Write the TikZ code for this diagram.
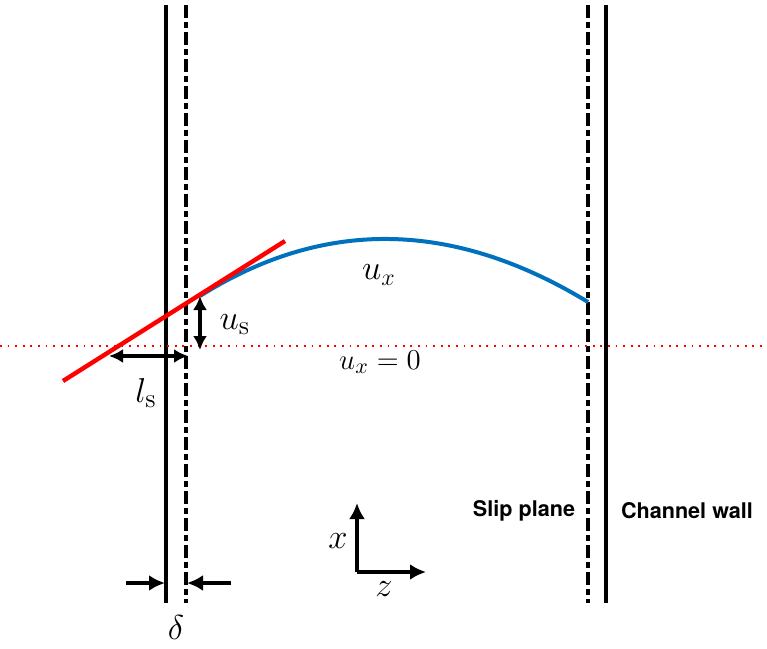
\documentclass[tikz,border=0pt]{standalone}
\usepackage{fontspec}
\setsansfont{TeX Gyre Heros}
\usepackage{tikz}
\usetikzlibrary{positioning,calc,arrows.meta}

\begin{document}
\begin{tikzpicture}[
    x=0.5pt, y=-0.5pt,
    wall/.style={line width=1.6pt},
    slipline/.style={line width=1.6pt, dash pattern=on 6.5pt off 2pt on 3pt off 2pt},
    profile/.style={line width=2pt, color={rgb,255:red,0;green,114;blue,189}},
    tangent/.style={line width=2.2pt, red},
    zeroline/.style={line width=0.9pt, red, dash pattern=on 0.9pt off 2.9pt},
    arrow/.style={-{Latex[length=8pt,width=8pt]}, line width=1.6pt},
    darrow/.style={{Latex[length=7pt,width=7pt]}-{Latex[length=7pt,width=7pt]}, line width=1.7pt},
    sym/.style={font=\fontsize{19}{22}\selectfont},
    lab/.style={font=\sffamily\bfseries\fontsize{10.8}{13}\selectfont}
]
\useasboundingbox (0,0) rectangle (767,649);

% walls and slip planes
\coordinate (wallLtop) at (166,5);   \coordinate (wallLbot) at (166,603);
\coordinate (slipLtop) at (186,5);   \coordinate (slipLbot) at (186,603);
\coordinate (slipRtop) at (588,5);   \coordinate (slipRbot) at (588,603);
\coordinate (wallRtop) at (606,5);   \coordinate (wallRbot) at (606,603);
\draw[wall] (wallLtop) -- (wallLbot);
\draw[slipline] (slipLtop) -- (slipLbot);
\draw[slipline] (slipRtop) -- (slipRbot);
\draw[wall] (wallRtop) -- (wallRbot);

% zero velocity line
\coordinate (zeroL) at (0,346);
\coordinate (zeroR) at (767,346);
\draw[zeroline] (zeroL) -- (zeroR);

% velocity profile and tangent
\coordinate (us) at (200,296);
\coordinate (uend) at (588,302);
\draw[profile] (us) .. controls (324,218) and (453,220) .. (uend);
\coordinate (tanA) at (63,381);
\coordinate (tanB) at (285,241);
\draw[tangent] (tanA) -- (tanB);

% slip velocity and slip length
\coordinate (usbot) at (200,350);
\draw[darrow] (us) -- (usbot);
\coordinate (lsL) at (109,356);
\coordinate (lsR) at (188,356);
\draw[darrow] (lsL) -- (lsR);

\node[sym] (uslabel) at (235,325) {$u_{\mathrm{s}}$};
\node[sym] (lslabel) at (146,393) {$l_{\mathrm{s}}$};
\node[font=\fontsize{17.5}{20}\selectfont] (uxlabel) at (379,275) {$u_x$};
\node[font=\fontsize{15}{18}\selectfont] (zerolabel) at (380,362) {$u_x = 0$};

% delta
\coordinate (dLa) at (126,583);  \coordinate (dLb) at (165,583);
\coordinate (dRa) at (231,583);  \coordinate (dRb) at (187,583);
\draw[arrow] (dLa) -- (dLb);
\draw[arrow] (dRa) -- (dRb);
\node[sym] (delta) at (176,627) {$\delta$};

% axes
\coordinate (origin) at (357,572);
\coordinate (xtip) at (357,503);
\coordinate (ztip) at (426,572);
\draw[arrow] (origin) -- (xtip);
\draw[arrow] (origin) -- (ztip);
\node[sym] (xlabel) at (338,541) {$x$};
\node[sym] (zlabel) at (384,589) {$z$};

% labels
\node[lab] (sliplabel) at (524,511) {Slip plane};
\node[lab] (walllabel) at (687,511) {Channel wall};

\end{tikzpicture}
\end{document}
